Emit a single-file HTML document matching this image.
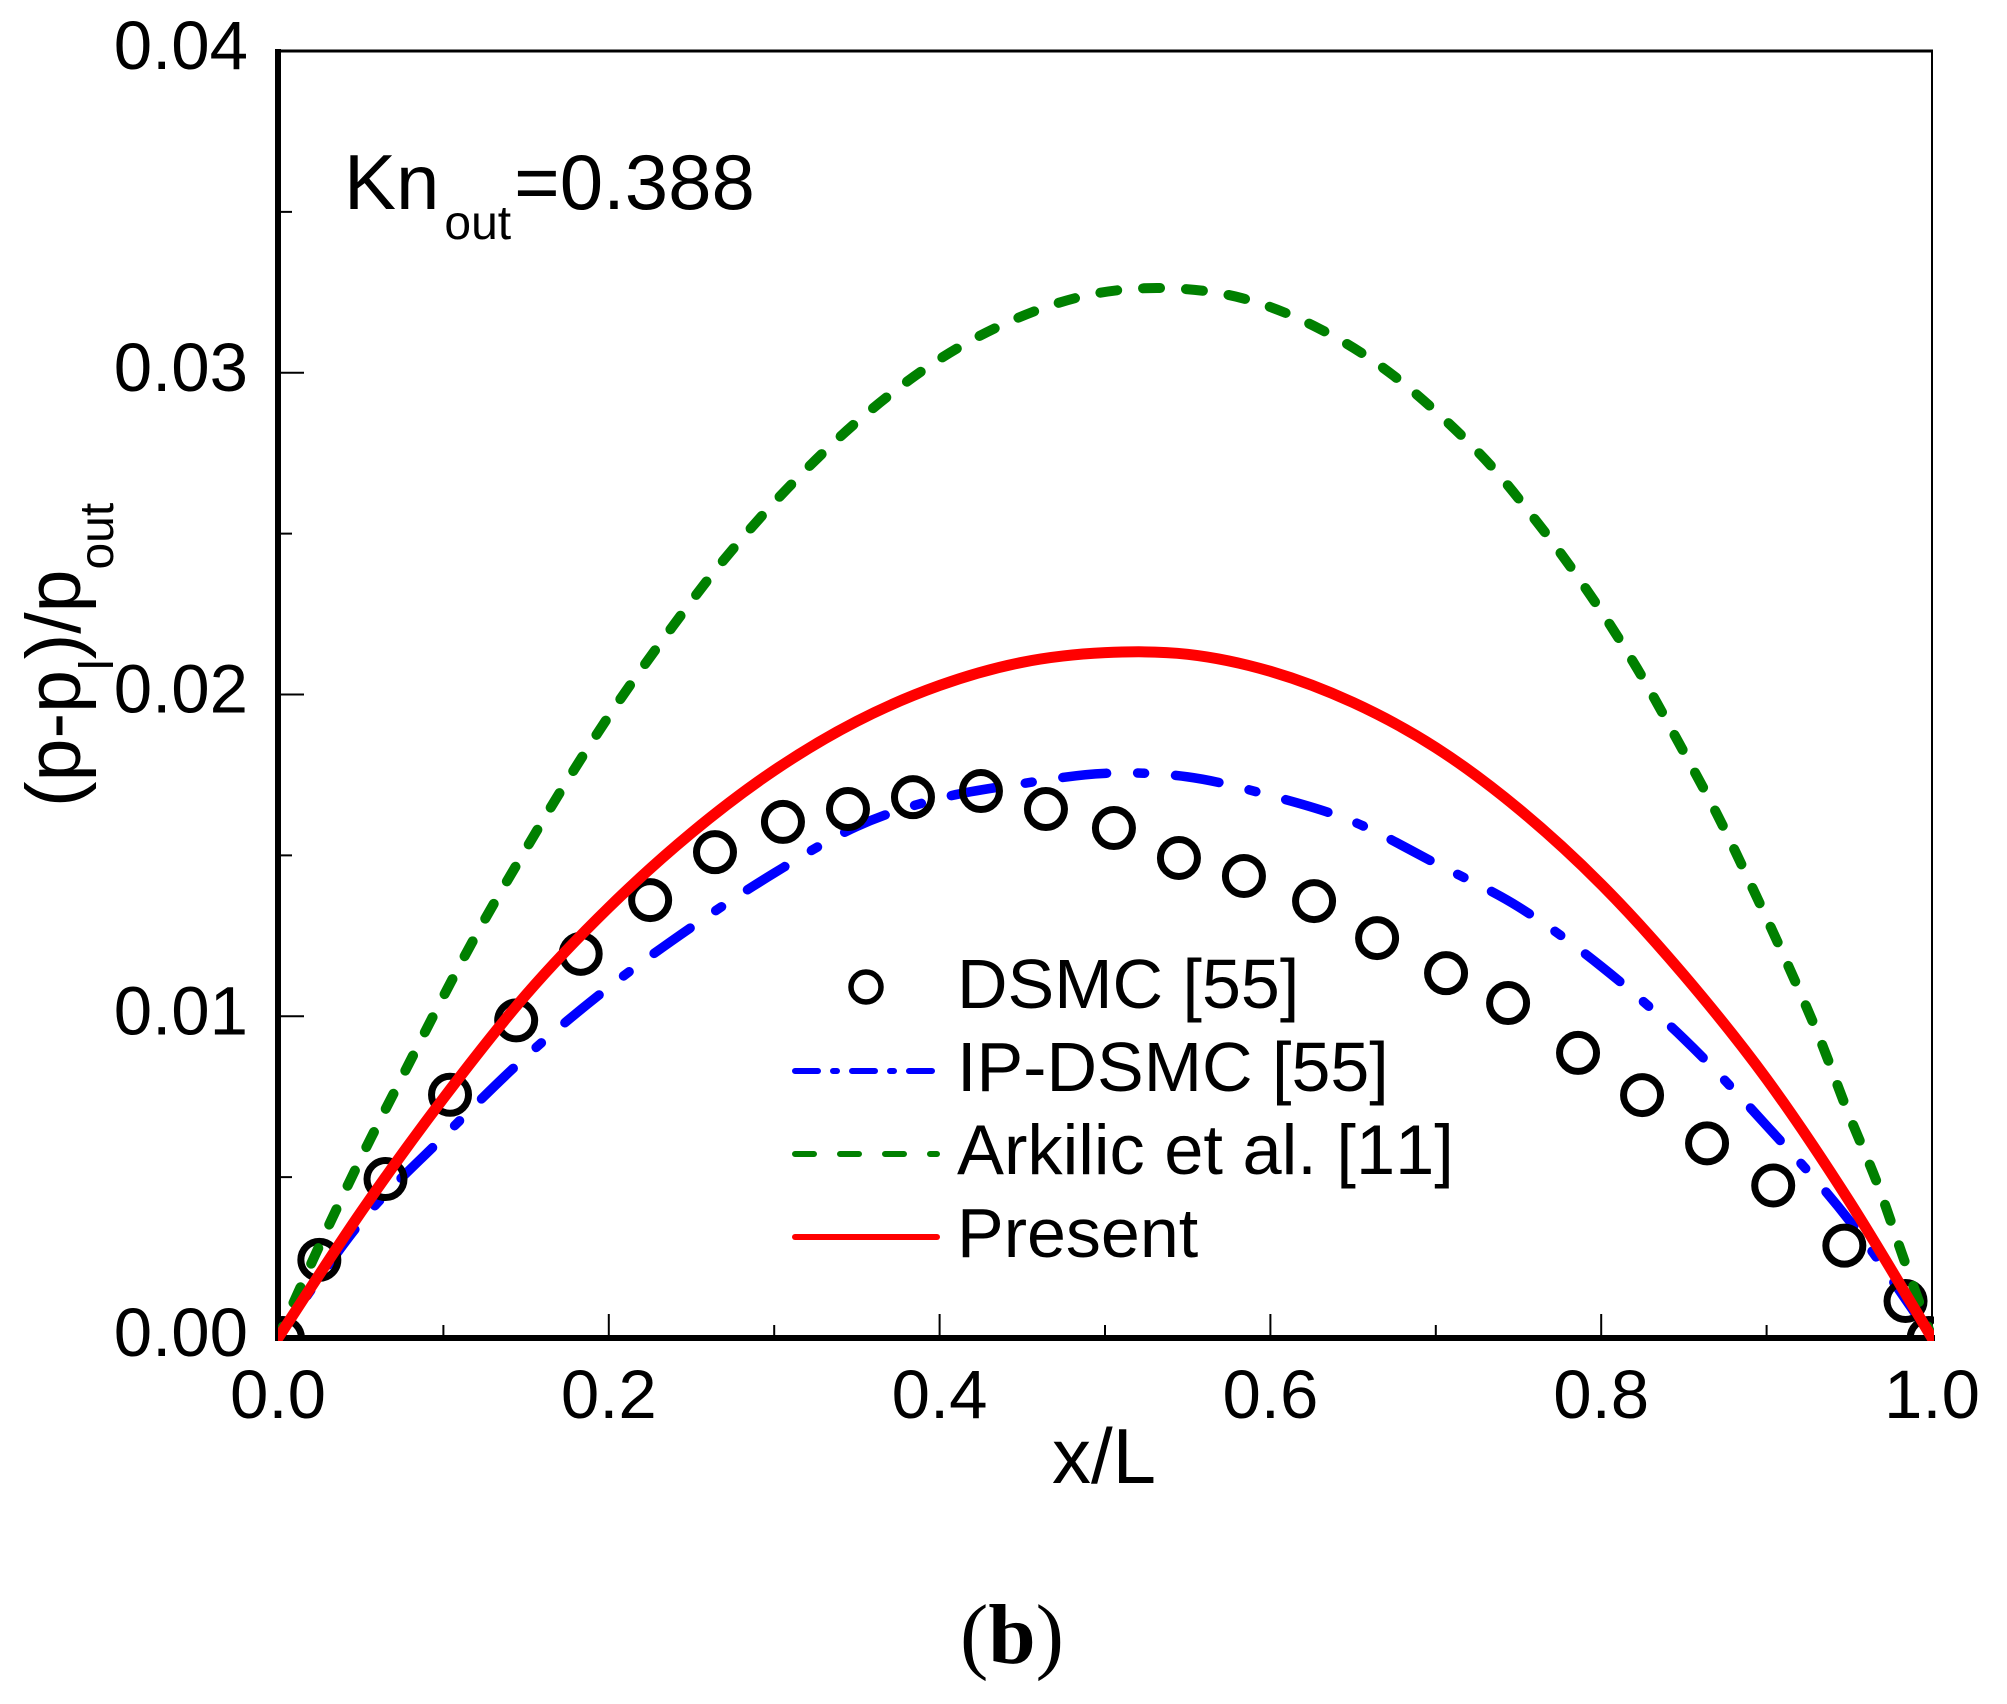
<!DOCTYPE html>
<html lang="en">
<head>
<meta charset="utf-8">
<title>Pressure deviation along channel, Kn_out = 0.388</title>
<style>
  html, body { margin: 0; padding: 0; background: #fff; }
  svg { display: block; }
  text { font-family: "Liberation Sans", Arial, sans-serif; fill: #000; font-kerning: none; }
  .serif { font-family: "Liberation Serif", "Times New Roman", serif; }
</style>
</head>
<body>
<svg id="chart" xmlns="http://www.w3.org/2000/svg" width="2007" height="1704" viewBox="0 0 2007 1704">
  <defs>
    <clipPath id="plot-clip"><rect x="278" y="51" width="1656" height="1290"/></clipPath>
  </defs>
  <rect x="0" y="0" width="2007" height="1704" fill="#fff"/>

  <g id="ticks"></g>
  <g id="tick-labels"></g>

  <line x1="278" y1="51" x2="1933" y2="51" stroke="#000" stroke-width="3"/>
  <line x1="1932" y1="50" x2="1932" y2="1338" stroke="#000" stroke-width="2"/>
  <line x1="278" y1="49" x2="278" y2="1341" stroke="#000" stroke-width="6"/>
  <line x1="275" y1="1338" x2="1935" y2="1338" stroke="#000" stroke-width="6"/>

  <g id="series" clip-path="url(#plot-clip)"></g>

  <text x="344" y="209" font-size="78">Kn<tspan font-size="48" dx="5" dy="30">out</tspan><tspan dx="3" dy="-30">=0.388</tspan></text>

  <text transform="translate(80,807) rotate(-90)" font-size="77">(p-p<tspan font-size="48" dy="33">l</tspan><tspan dy="-33">)/p</tspan><tspan font-size="48" dy="33">out</tspan></text>
  <text x="1052" y="1483" font-size="78">x/L</text>

  <g>
    <g>
      <circle cx="866" cy="987" r="15" fill="none" stroke="#000" stroke-width="5.5"/>
      <text x="957" y="1008" font-size="70">DSMC [55]</text>
    </g>
    <g>
      <line x1="795" y1="1071" x2="937" y2="1071" stroke="#0000ff" stroke-width="6" stroke-linecap="round" stroke-dasharray="23 15 4 15"/>
      <text x="957" y="1091" font-size="70">IP-DSMC [55]</text>
    </g>
    <g>
      <line x1="795" y1="1154" x2="937" y2="1154" stroke="#008000" stroke-width="6" stroke-linecap="round" stroke-dasharray="19 26"/>
      <text x="957" y="1174" font-size="70.4">Arkilic et al. [11]</text>
    </g>
    <g>
      <line x1="795" y1="1237" x2="937" y2="1237" stroke="#ff0000" stroke-width="6" stroke-linecap="round"/>
      <text x="957" y="1257" font-size="70">Present</text>
    </g>
  </g>

  <text class="serif" x="960" y="1663" font-size="85">(<tspan font-weight="bold">b</tspan>)</text>
</svg>

<script>
// ---- Chart data ----
const xMajorTicks = ["0.0", "0.2", "0.4", "0.6", "0.8", "1.0"];
const xMinorTicks = [0.1, 0.3, 0.5, 0.7, 0.9];
const yMajorTicks = ["0.00", "0.01", "0.02", "0.03", "0.04"];
const yMinorTicks = [0.005, 0.015, 0.025, 0.035];

const dsmcX = [0.003, 0.025, 0.065, 0.104, 0.144, 0.183, 0.225, 0.2642, 0.3053, 0.3446, 0.3839, 0.425, 0.4643, 0.5054, 0.5447, 0.584, 0.6264, 0.6645, 0.7062, 0.7437, 0.786, 0.8247, 0.864, 0.904, 0.947, 0.984, 0.998];
const dsmcY = [0.0, 0.00243, 0.00494, 0.00756, 0.00987, 0.01194, 0.01361, 0.0151, 0.01604, 0.01644, 0.01681, 0.017, 0.01644, 0.01585, 0.01492, 0.01436, 0.01358, 0.01243, 0.01134, 0.01041, 0.00886, 0.00755, 0.00605, 0.00474, 0.00287, 0.00115, 0.0];

const ipDsmcX = [0, 0.05, 0.10, 0.15, 0.20, 0.25, 0.30, 0.35, 0.40, 0.45, 0.50, 0.55, 0.60, 0.65, 0.70, 0.75, 0.80, 0.85, 0.90, 0.95, 1];
const ipDsmcY = [0, 0.00360, 0.00625, 0.00875, 0.01090, 0.01277, 0.01445, 0.01590, 0.01677, 0.01723, 0.01755, 0.01744, 0.01686, 0.01605, 0.01475, 0.01340, 0.01155, 0.00930, 0.00660, 0.00365, 0];

const arkilicX = [0, 0.0115, 0.0320, 0.0532, 0.0756, 0.0985, 0.1221, 0.1481, 0.1747, 0.2037, 0.2352, 0.2690, 0.3083, 0.3519, 0.3984, 0.4444, 0.4903, 0.5363, 0.5828, 0.6288, 0.6747, 0.7249, 0.7612, 0.7938, 0.8216, 0.8470, 0.8706, 0.8918, 0.9123, 0.9317, 0.9486, 0.9668, 0.9825, 1];
const arkilicY = [0, 0.00134, 0.00364, 0.00591, 0.00817, 0.01047, 0.01274, 0.01504, 0.01731, 0.01961, 0.02188, 0.02415, 0.02642, 0.02856, 0.03037, 0.03164, 0.03242, 0.03263, 0.03232, 0.03139, 0.0299, 0.02757, 0.02536, 0.02306, 0.02082, 0.01849, 0.01622, 0.01395, 0.01166, 0.00936, 0.00709, 0.00482, 0.00252, 0];

const presentX = [0, 0.05, 0.10, 0.15, 0.20, 0.25, 0.30, 0.35, 0.40, 0.45, 0.50, 0.55, 0.60, 0.65, 0.70, 0.75, 0.80, 0.85, 0.90, 0.95, 1];
const presentY = [0, 0.00390, 0.00745, 0.01067, 0.01338, 0.01570, 0.01764, 0.01917, 0.02028, 0.02100, 0.02130, 0.02125, 0.02072, 0.01975, 0.01835, 0.01645, 0.01410, 0.01128, 0.00805, 0.00425, 0];

// ---- Axis functions ----
const PLOT_LEFT = 278, PLOT_RIGHT = 1932, PLOT_TOP = 51, PLOT_BOTTOM = 1338;
const X_MIN = 0, X_MAX = 1, Y_MIN = 0, Y_MAX = 0.04;
function xScale(v) { return PLOT_LEFT + (v - X_MIN) / (X_MAX - X_MIN) * (PLOT_RIGHT - PLOT_LEFT); }
function yScale(v) { return PLOT_BOTTOM - (v - Y_MIN) / (Y_MAX - Y_MIN) * (PLOT_BOTTOM - PLOT_TOP); }

const NS = "http://www.w3.org/2000/svg";
function make(tag, attrs) {
  const node = document.createElementNS(NS, tag);
  for (const key in attrs) node.setAttribute(key, attrs[key]);
  return node;
}

// Smooth path through the data points (Catmull-Rom to Bezier)
function curvePath(xs, ys) {
  const pts = xs.map(function (x, i) { return [xScale(x), yScale(ys[i])]; });
  let d = "M" + pts[0][0].toFixed(2) + " " + pts[0][1].toFixed(2);
  for (let i = 0; i < pts.length - 1; i++) {
    const p0 = pts[Math.max(i - 1, 0)], p1 = pts[i], p2 = pts[i + 1], p3 = pts[Math.min(i + 2, pts.length - 1)];
    const c1x = p1[0] + (p2[0] - p0[0]) / 6, c1y = p1[1] + (p2[1] - p0[1]) / 6;
    const c2x = p2[0] - (p3[0] - p1[0]) / 6, c2y = p2[1] - (p3[1] - p1[1]) / 6;
    d += "C" + c1x.toFixed(2) + " " + c1y.toFixed(2) + " " + c2x.toFixed(2) + " " + c2y.toFixed(2) + " " + p2[0].toFixed(2) + " " + p2[1].toFixed(2);
  }
  return d;
}

const ticksGroup = document.getElementById("ticks");
const labelsGroup = document.getElementById("tick-labels");
const seriesGroup = document.getElementById("series");

// ---- X ticks and labels ----
xMajorTicks.forEach(function (label) {
  const v = parseFloat(label);
  const tick = make("line", { x1: xScale(v), x2: xScale(v), y1: 1336, y2: 1314, stroke: "#000", "stroke-width": 2 });
  
  
  ticksGroup.appendChild(tick);
  const text = make("text", { x: xScale(v), y: 1418, "font-size": 69, "text-anchor": "middle" });
  
  
  text.textContent = label;
  labelsGroup.appendChild(text);
});
xMinorTicks.forEach(function (v) {
  const tick = make("line", { x1: xScale(v), x2: xScale(v), y1: 1336, y2: 1325, stroke: "#000", "stroke-width": 2 });
  
  
  ticksGroup.appendChild(tick);
});

// ---- Y ticks and labels ----
yMajorTicks.forEach(function (label) {
  const v = parseFloat(label);
  const tick = make("line", { x1: 280, x2: 304, y1: yScale(v), y2: yScale(v), stroke: "#000", "stroke-width": 2 });
  
  
  ticksGroup.appendChild(tick);
  const text = make("text", { x: 248, y: yScale(v) + 18, "font-size": 69, "text-anchor": "end" });
  
  
  text.textContent = label;
  labelsGroup.appendChild(text);
});
yMinorTicks.forEach(function (v) {
  const tick = make("line", { x1: 280, x2: 292, y1: yScale(v), y2: yScale(v), stroke: "#000", "stroke-width": 2 });
  
  
  ticksGroup.appendChild(tick);
});

// ---- Series ----
const ipDsmcLine = make("path", { d: curvePath(ipDsmcX, ipDsmcY), fill: "none", stroke: "#0000ff", "stroke-width": 9.5, "stroke-linecap": "round", "stroke-linejoin": "round", "stroke-dasharray": "44 31 7 31", "stroke-dashoffset": 24 });


seriesGroup.appendChild(ipDsmcLine);

dsmcX.forEach(function (x, i) {
  const marker = make("circle", { cx: xScale(x), cy: yScale(dsmcY[i]), r: 18.5, fill: "none", stroke: "#000", "stroke-width": 7 });
  
  
  seriesGroup.appendChild(marker);
});

const arkilicLine = make("path", { d: curvePath(arkilicX, arkilicY), fill: "none", stroke: "#008000", "stroke-width": 10, "stroke-linecap": "round", "stroke-linejoin": "round" });


seriesGroup.appendChild(arkilicLine);
// Spread the dash pattern evenly: the reference shows 63 dash periods between the first and last dash.
const arkilicLength = arkilicLine.getTotalLength();
const arkilicPeriod = (arkilicLength - 94) / 63;
arkilicLine.setAttribute("stroke-dasharray", "17 " + (arkilicPeriod - 17).toFixed(3));
arkilicLine.setAttribute("stroke-dashoffset", (arkilicPeriod - 38.5).toFixed(3));

const presentLine = make("path", { d: curvePath(presentX, presentY), fill: "none", stroke: "#ff0000", "stroke-width": 11, "stroke-linecap": "round", "stroke-linejoin": "round" });


seriesGroup.appendChild(presentLine);
</script>
</body>
</html>
